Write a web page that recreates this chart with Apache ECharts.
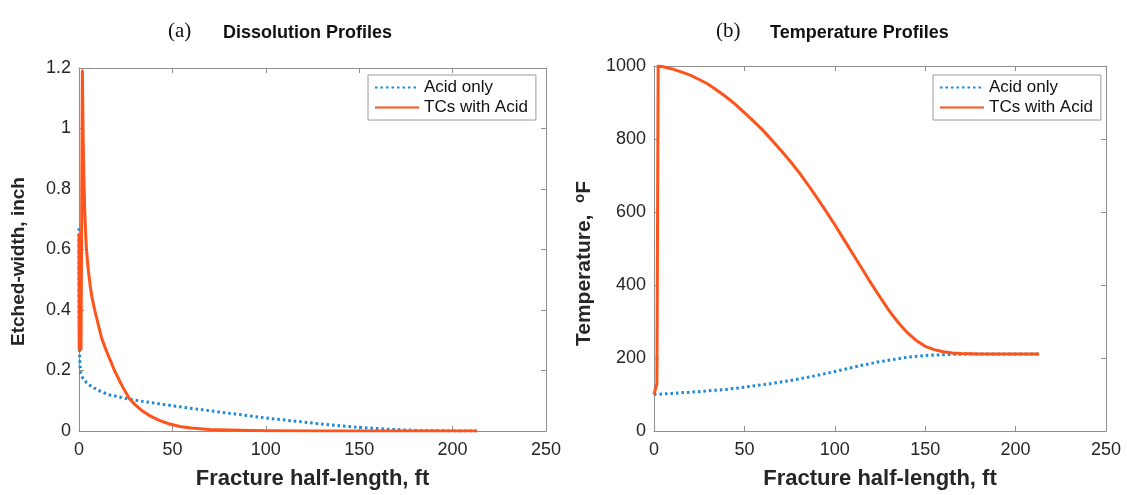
<!DOCTYPE html>
<html>
<head>
<meta charset="utf-8">
<title>Dissolution and Temperature Profiles</title>
<script src="https://cdn.jsdelivr.net/npm/echarts@6/dist/echarts.min.js"></script>
<style>
  html, body { margin: 0; padding: 0; background: #fff; }
  #chart { width: 1127px; height: 495px; }
</style>
</head>
<body>
<div id="chart"></div>
<script>
// Fracture half-length positions (ft) and values for each profile
const widthAcidOnlyX = [0, 0.05, 0.3, 0.6, 1, 2, 4, 6, 10, 16, 20, 27, 35, 45, 54, 65, 75, 90, 100, 115, 130, 150, 165, 180, 200, 213];
const widthAcidOnly  = [0.67, 0.40, 0.26, 0.21, 0.19, 0.175, 0.16, 0.15, 0.135, 0.12, 0.115, 0.105, 0.097, 0.088, 0.08, 0.071, 0.063, 0.051, 0.043, 0.033, 0.023, 0.012, 0.006, 0.002, 0.0, 0.0];

const widthTCsX = [0, 0.1, 0.2, 0.3, 0.4, 0.5, 0.6, 0.7, 0.8, 0.9, 1.0, 1.1, 1.25, 1.8, 2.2, 2.6, 3.0, 3.5, 4, 5, 6, 7, 8.4, 10, 12, 14, 16, 19, 23, 27, 30, 34, 38, 43, 48, 54, 60, 70, 80, 100, 130, 160, 213];
const widthTCs  = [0.65, 0.27, 0.65, 0.27, 0.65, 0.27, 0.65, 0.27, 0.65, 0.27, 0.65, 0.27, 0.27, 1.19, 0.98, 0.84, 0.74, 0.66, 0.6, 0.53, 0.48, 0.44, 0.4, 0.36, 0.31, 0.275, 0.245, 0.2, 0.15, 0.107, 0.087, 0.066, 0.05, 0.035, 0.024, 0.015, 0.01, 0.005, 0.003, 0.001, 0.0, 0.0, 0.0];

const tempAcidOnlyX = [0, 10, 25, 40, 50, 65, 75, 90, 100, 115, 125, 140, 150, 165, 175, 190, 213];
const tempAcidOnly  = [100, 103, 108, 114, 120, 130, 138, 152, 163, 180, 190, 202, 207, 210, 211, 211, 211];

const tempTCsX = [0, 1.6, 2.3, 5, 10, 15, 20, 25, 30, 35, 40, 45, 50, 55, 60, 65, 70, 75, 80, 85, 90, 95, 100, 105, 110, 115, 120, 125, 130, 135, 140, 145, 150, 155, 160, 165, 170, 180, 195, 213];
const tempTCs  = [100, 130, 1000, 998, 992, 984, 975, 963, 950, 933, 915, 895, 872, 849, 825, 798, 770, 741, 710, 676, 640, 603, 565, 525, 485, 445, 405, 367, 330, 298, 270, 248, 232, 223, 217, 214, 212, 211, 211, 211];

const seriesNames = ['Acid only', 'TCs with Acid'];
const panelLabels = ['(a)', '(b)'];
const panelTitles = ['Dissolution Profiles', 'Temperature Profiles'];
const xAxisTitle = 'Fracture half-length, ft';

const pairs = (xs, ys) => xs.map((x, i) => [x, ys[i]]);

const BLUE = '#1b8ad6';
const ORANGE = '#fd541c';
const AXIS = '#8f8f8f';
const SANS = 'Liberation Sans, Arial, sans-serif';

const grids = [
  { left: 79, top: 68, width: 467, height: 364 },
  { left: 654, top: 66, width: 452, height: 366 }
];

function mainX(gridIndex) {
  return {
    type: 'value', gridIndex, min: 0, max: 250, interval: 50,
    name: xAxisTitle, nameLocation: 'middle', nameGap: 37,
    nameTextStyle: { fontFamily: SANS, fontWeight: 'bold', fontSize: 22, color: '#262626' },
    axisLine: { show: true, onZero: false, lineStyle: { color: AXIS, width: 1 } },
    axisTick: { show: true, inside: true, length: 5, lineStyle: { color: AXIS } },
    axisLabel: { fontFamily: SANS, fontSize: 18, color: '#262626', margin: 10 },
    splitLine: { show: false }
  };
}
function boxX(gridIndex) {
  return {
    type: 'value', gridIndex, position: 'top', min: 0, max: 250, interval: 50,
    axisLine: { show: true, onZero: false, lineStyle: { color: AXIS, width: 1 } },
    axisTick: { show: true, inside: true, length: 5, lineStyle: { color: AXIS } },
    axisLabel: { show: false }, splitLine: { show: false }
  };
}
function mainY(gridIndex, max, interval, name, gap, fontSize, padding, rich) {
  const ax = {
    type: 'value', gridIndex, min: 0, max, interval,
    name, nameLocation: 'middle', nameGap: gap, nameRotate: 90,
    nameTextStyle: { fontFamily: SANS, fontWeight: 'bold', fontSize, color: '#262626', padding },
    axisLine: { show: true, onZero: false, lineStyle: { color: AXIS, width: 1 } },
    axisTick: { show: true, inside: true, length: 5, lineStyle: { color: AXIS } },
    axisLabel: { fontFamily: SANS, fontSize: 18, color: '#262626', margin: 8, formatter: v => String(v) },
    splitLine: { show: false }
  };
  if (rich) ax.nameTextStyle.rich = rich;
  return ax;
}
function boxY(gridIndex, max, interval) {
  return {
    type: 'value', gridIndex, position: 'right', min: 0, max, interval,
    axisLine: { show: true, onZero: false, lineStyle: { color: AXIS, width: 1 } },
    axisTick: { show: true, inside: true, length: 5, lineStyle: { color: AXIS } },
    axisLabel: { show: false }, splitLine: { show: false }
  };
}

function line(name, data, xi, yi, color, dotted) {
  return {
    name, type: 'line', xAxisIndex: xi, yAxisIndex: yi, data,
    symbol: 'none', showSymbol: false, smooth: false,
    animation: false,
    lineStyle: { color, width: 3, type: dotted ? [2.5, 3] : 'solid', join: 'round' },
    itemStyle: { color },
    z: dotted ? 2 : 3
  };
}

function legendAt(left, top) {
  return {
    left, top, orient: 'vertical', data: seriesNames,
    backgroundColor: '#fff', borderColor: '#9a9a9a', borderWidth: 1,
    padding: [4, 8, 4, 6], itemGap: 3, itemWidth: 44, itemHeight: 14,
    itemStyle: { opacity: 0 },
    textStyle: { fontFamily: SANS, fontSize: 17, color: '#111' },
    selectedMode: false
  };
}

const titleStyle = { fontFamily: SANS, fontWeight: 'bold', fontSize: 18, color: '#111' };
const labelStyle = { fontFamily: 'Liberation Serif, DejaVu Serif, serif', fontWeight: 'normal', fontSize: 21, color: '#111' };

const option = {
  animation: false,
  backgroundColor: '#fff',
  title: [
    { text: panelLabels[0], left: 163, top: 16, textStyle: labelStyle },
    { text: panelTitles[0], left: 218, top: 19, textStyle: titleStyle },
    { text: panelLabels[1], left: 711, top: 16, textStyle: labelStyle },
    { text: panelTitles[1], left: 765, top: 19, textStyle: titleStyle }
  ],
  legend: [legendAt(368, 75), legendAt(933, 75)],
  grid: grids,
  xAxis: [mainX(0), boxX(0), mainX(1), boxX(1)],
  yAxis: [
    mainY(0, 1.2, 0.2, 'Etched-width, inch', 51, 19, [0, 24, 0, 0]),
    boxY(0, 1.2, 0.2),
    mainY(1, 1000, 200, 'Temperature,  {sup|o}F', 58, 21, [0, 30, 0, 0], {
      sup: { fontFamily: SANS, fontWeight: 'bold', fontSize: 15, color: '#262626', verticalAlign: 'top', padding: [0, 0, 9, 0] }
    }),
    boxY(1, 1000, 200)
  ],
  series: [
    line(seriesNames[0], pairs(widthAcidOnlyX, widthAcidOnly), 0, 0, BLUE, true),
    line(seriesNames[1], pairs(widthTCsX, widthTCs), 0, 0, ORANGE, false),
    line(seriesNames[0], pairs(tempAcidOnlyX, tempAcidOnly), 2, 2, BLUE, true),
    line(seriesNames[1], pairs(tempTCsX, tempTCs), 2, 2, ORANGE, false)
  ]
};

const chart = echarts.init(document.getElementById('chart'), null, { renderer: 'canvas' });
chart.setOption(option);
</script>
</body>
</html>
